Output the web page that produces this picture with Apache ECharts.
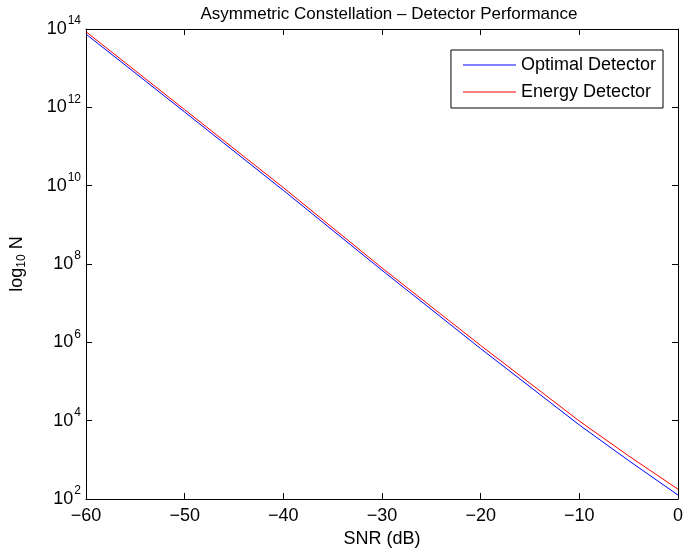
<!DOCTYPE html>
<html>
<head>
<meta charset="utf-8">
<script src="https://cdn.jsdelivr.net/npm/echarts@6/dist/echarts.min.js"></script>
<style>html,body{margin:0;padding:0;background:#fff;}#c{width:686px;height:554px;}</style>
</head>
<body>
<div id="c"></div>
<script>
var snr = [-60, -50, -40, -30, -20, -10, -5, 0];
var optimalN = [7.41e13, 7.59e11, 7.59e9, 6.92e7, 6.92e5, 7.76e3, 955, 126];
var energyN = [8.51e13, 8.71e11, 8.91e9, 7.94e7, 8.32e5, 9.77e3, 1259, 178];
var xTicks = [-60, -50, -40, -30, -20, -10, 0];
var yTicks = [1e2, 1e4, 1e6, 1e8, 1e10, 1e12, 1e14];

var FONT = '"Liberation Sans", Arial, Helvetica, sans-serif';
function pairs(xs, ys) { return xs.map(function (x, i) { return [x, ys[i]]; }); }
function xFmt(v) { return v < 0 ? '\u2212' + Math.abs(v) : String(v); }
function yFmt(v) {
  var e = Math.round(Math.log10(v));
  return '{b|10}{s|' + e + '}';
}
var chart = echarts.init(document.getElementById('c'), null, {renderer: 'canvas'});
var axisLine = {show: true, onZero: false, lineStyle: {color: '#000', width: 1}};
function xTick() { return {show: true, inside: true, length: 6, customValues: xTicks, lineStyle: {color: '#000', width: 1}}; }
function yTick() { return {show: true, inside: true, length: 6, customValues: yTicks, lineStyle: {color: '#000', width: 1}}; }
chart.setOption({
  backgroundColor: '#fff',
  animation: false,
  title: {
    text: 'Asymmetric Constellation \u2013 Detector Performance',
    left: 384, top: 1, textAlign: 'center',
    textStyle: {fontFamily: FONT, fontSize: 17, fontWeight: 'normal', color: '#000'}
  },
  legend: {
    orient: 'vertical', right: 23, top: 50,
    icon: 'rect', itemWidth: 53, itemHeight: 1, itemGap: 9,
    padding: [6, 7, 7, 12],
    borderColor: '#000', borderWidth: 1, backgroundColor: '#fff',
    textStyle: {fontFamily: FONT, fontSize: 18, color: '#000'},
    data: ['Optimal Detector', 'Energy Detector']
  },
  grid: {left: 86, right: 3, top: 29, bottom: 55, containLabel: false},
  xAxis: [{
    type: 'value', min: -60, max: 0, interval: 10, position: 'bottom',
    name: 'SNR (dB)', nameLocation: 'middle', nameGap: 29,
    nameTextStyle: {fontFamily: FONT, fontSize: 18, color: '#000'},
    axisLine: axisLine, axisTick: xTick(), splitLine: {show: false},
    axisLabel: {formatter: xFmt, fontFamily: FONT, fontSize: 18, color: '#000', margin: 8, customValues: xTicks}
  }, {
    type: 'value', min: -60, max: 0, interval: 10, position: 'top',
    axisLine: axisLine, axisTick: xTick(), splitLine: {show: false}, axisLabel: {show: false}
  }],
  yAxis: [{
    type: 'log', logBase: 10, min: 100, max: 1e14, position: 'left',
    name: '{a|log}{sub|10}{a| N}', nameLocation: 'middle', nameGap: 58, nameRotate: 90,
    nameTextStyle: {fontFamily: FONT, fontSize: 18, color: '#000',
      rich: {a: {fontFamily: FONT, fontSize: 18, color: '#000'},
             sub: {fontFamily: FONT, fontSize: 12, color: '#000', padding: [9, 0, 0, 0]}}},
    axisLine: axisLine, axisTick: yTick(), splitLine: {show: false}, minorTick: {show: false},
    axisLabel: {formatter: yFmt, margin: 5, color: '#000', customValues: yTicks,
      rich: {b: {fontFamily: FONT, fontSize: 18, color: '#000'},
             s: {fontFamily: FONT, fontSize: 12, color: '#000', padding: [0, 0, 16, 1]}}}
  }, {
    type: 'log', logBase: 10, min: 100, max: 1e14, position: 'right',
    axisLine: axisLine, axisTick: yTick(), splitLine: {show: false}, axisLabel: {show: false}
  }],
  series: [{
    name: 'Optimal Detector', type: 'line', xAxisIndex: 0, yAxisIndex: 0,
    data: pairs(snr, optimalN), symbol: 'none', smooth: false,
    lineStyle: {color: '#0000ff', width: 1}, itemStyle: {color: '#0000ff'}
  }, {
    name: 'Energy Detector', type: 'line', xAxisIndex: 0, yAxisIndex: 0,
    data: pairs(snr, energyN), symbol: 'none', smooth: false,
    lineStyle: {color: '#ff0000', width: 1}, itemStyle: {color: '#ff0000'}
  }]
});
</script>
</body>
</html>
